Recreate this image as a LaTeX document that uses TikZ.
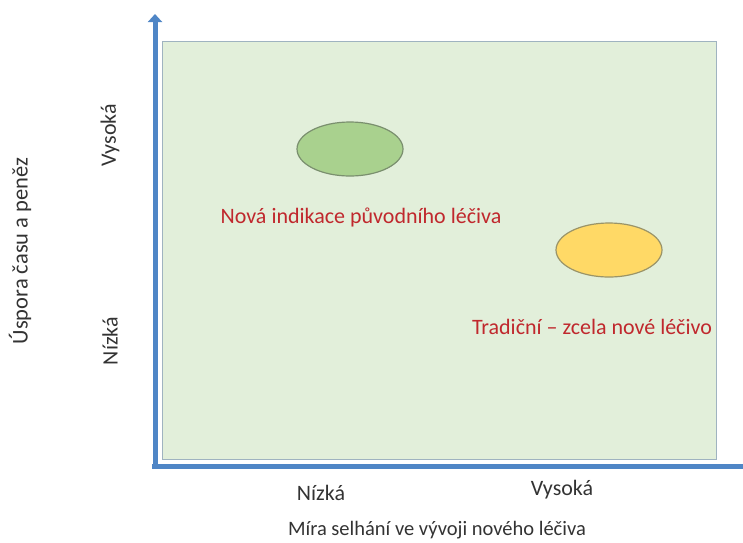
\documentclass[tikz,border=0pt]{standalone}
\usepackage{fontspec}
\setmainfont{Carlito}
\usetikzlibrary{arrows.meta,shapes.geometric}
\definecolor{axisblue}{HTML}{4F86C6}
\definecolor{panelfill}{HTML}{E2EFDA}
\definecolor{panelline}{HTML}{9FB3C0}
\definecolor{greenfill}{HTML}{A9D18E}
\definecolor{greenline}{HTML}{7A8F6E}
\definecolor{yellowfill}{HTML}{FFD966}
\definecolor{yellowline}{HTML}{9A9468}
\definecolor{labelred}{HTML}{C0282D}
\tikzset{
  axis/.style={draw=axisblue, line width=5pt},
  blob/.style={ellipse, minimum width=106pt, minimum height=54pt, line width=1.2pt},
  lbl/.style={font=\fontsize{22}{26}\selectfont, text=black!80, inner sep=0pt},
  ttl/.style={font=\fontsize{20.5}{24}\selectfont, text=black!80, inner sep=0pt},
  redlbl/.style={font=\fontsize{22}{26}\selectfont, text=labelred, inner sep=0pt}
}
\begin{document}
\begin{tikzpicture}[x=1pt,y=-1pt]
\useasboundingbox (0,0) rectangle (743,542);
% plotting panel
\node[draw=panelline, fill=panelfill, line width=1.2pt, minimum width=554pt, minimum height=418pt, inner sep=0pt, anchor=north west] (panel) at (162,41) {};
% axes
\coordinate (origin) at (155,469);
\coordinate (ytop) at (155,14);
\coordinate (xstart) at (152,466);
\coordinate (xend) at (745,466);
\draw[axis, -{Triangle[width=14pt,length=8pt]}] (origin) -- (ytop);
\draw[axis] (xstart) -- (xend);
% ellipses
\node[blob, draw=greenline, fill=greenfill] (green) at (350,149) {};
\node[blob, draw=yellowline, fill=yellowfill] (yellow) at (609,250) {};
% labels in the panel
\node[redlbl] (lnew) at (361,217) {Nová indikace původního léčiva};
\node[redlbl] (ltrad) at (592,327) {Tradiční – zcela nové léčivo};
% axis labels
\node[lbl, rotate=90] (yhigh) at (110,135) {Vysoká};
\node[lbl, rotate=90] (ylow) at (110,341) {Nízká};
\node[ttl, font=\fontsize{22.5}{26}\selectfont, rotate=90] (ytitle) at (20,251) {Úspora času a peněz};
\node[lbl] (xlow) at (321,493) {Nízká};
\node[lbl] (xhigh) at (562,490) {Vysoká};
\node[ttl] (xtitle) at (437,530) {Míra selhání ve vývoji nového léčiva};
\end{tikzpicture}
\end{document}
